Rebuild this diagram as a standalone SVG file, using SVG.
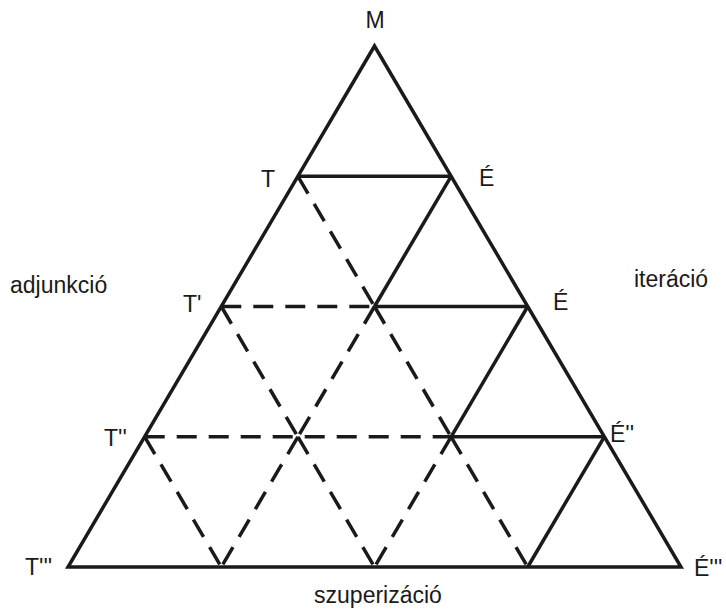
<svg xmlns="http://www.w3.org/2000/svg" width="726" height="612" viewBox="0 0 726 612">
<style>
.s{stroke:#1a1a1a;stroke-width:3.5;fill:none;stroke-linecap:butt;stroke-linejoin:miter}
.d{stroke:#1a1a1a;stroke-width:3.5;fill:none;stroke-dasharray:20 12}
text{font-family:"Liberation Sans",Arial,sans-serif;font-size:23px;fill:#1a1a1a}
</style>
<rect width="726" height="612" fill="#fff"/>
<g id="connectors">
<polygon class="s" points="374.5,46 68,567 681,567"/>
<line class="s" x1="297.9" y1="176.3" x2="451.1" y2="176.3"/>
<line class="s" x1="451.1" y1="176.3" x2="374.5" y2="306.5"/>
<line class="s" x1="374.5" y1="306.5" x2="527.7" y2="306.5"/>
<line class="s" x1="527.7" y1="306.5" x2="451.1" y2="436.8"/>
<line class="s" x1="451.1" y1="436.8" x2="604.3" y2="436.8"/>
<line class="s" x1="604.3" y1="436.8" x2="527.7" y2="567"/>
<line class="d" x1="297.9" y1="176.3" x2="374.5" y2="306.5"/>
<line class="d" x1="221.3" y1="306.5" x2="374.5" y2="306.5"/>
<line class="d" x1="221.3" y1="306.5" x2="297.9" y2="436.8"/>
<line class="d" x1="374.5" y1="306.5" x2="297.9" y2="436.8"/>
<line class="d" x1="374.5" y1="306.5" x2="451.1" y2="436.8"/>
<line class="d" x1="144.7" y1="436.8" x2="451.1" y2="436.8"/>
<line class="d" x1="144.7" y1="436.8" x2="221.3" y2="567"/>
<line class="d" x1="297.9" y1="436.8" x2="221.3" y2="567"/>
<line class="d" x1="297.9" y1="436.8" x2="374.5" y2="567"/>
<line class="d" x1="451.1" y1="436.8" x2="374.5" y2="567"/>
<line class="d" x1="451.1" y1="436.8" x2="527.7" y2="567"/>
</g>
<g id="M"><text x="375" y="28" text-anchor="middle">M</text></g>
<g id="T"><text x="261" y="187">T</text></g>
<g id="T1"><text x="183" y="312">T'</text></g>
<g id="T2"><text x="104" y="446">T''</text></g>
<g id="T3"><text x="25" y="575">T'''</text></g>
<g id="E"><text x="479" y="186">É</text></g>
<g id="E1"><text x="553" y="310">É</text></g>
<g id="E2"><text x="610" y="442">É''</text></g>
<g id="E3"><text x="694" y="576">É'''</text></g>
<g id="adjunkcio"><text x="10" y="293">adjunkció</text></g>
<g id="iteracio"><text x="634" y="287">iteráció</text></g>
<g id="szuperizacio"><text x="378" y="603" text-anchor="middle">szuperizáció</text></g>
</svg>
